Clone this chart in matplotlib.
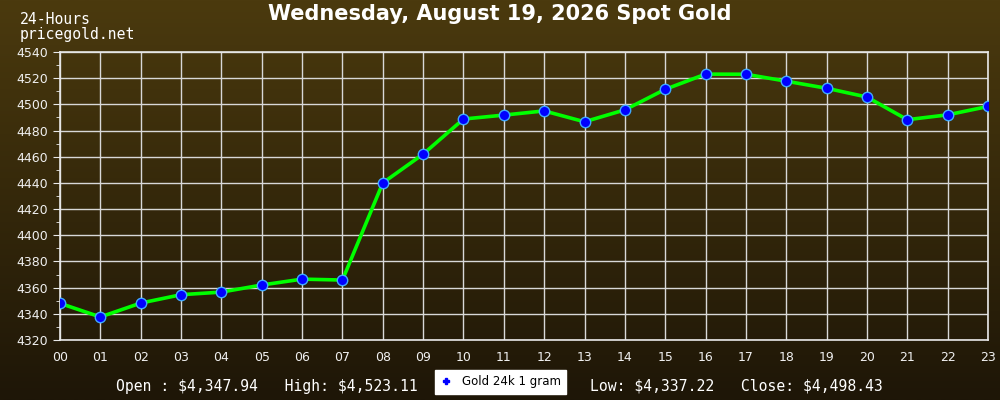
import numpy as np
import matplotlib
matplotlib.use("Agg")
import matplotlib.pyplot as plt
from matplotlib.lines import Line2D

plt.rcParams["text.parse_math"] = False

hours = ["00", "01", "02", "03", "04", "05", "06", "07", "08", "09", "10", "11",
         "12", "13", "14", "15", "16", "17", "18", "19", "20", "21", "22", "23"]
prices = [4348.0, 4337.6, 4348.2, 4354.6, 4356.6, 4362.0, 4366.5, 4365.8,
          4440.0, 4462.0, 4488.8, 4491.8, 4495.0, 4486.7, 4495.8, 4511.5,
          4523.1, 4523.0, 4517.7, 4512.3, 4505.6, 4488.3, 4492.0, 4498.4]
y_ticks = [4320, 4340, 4360, 4380, 4400, 4420, 4440, 4460, 4480, 4500, 4520, 4540]
title = "Wednesday, August 19, 2026 Spot Gold"
series_name = "Gold 24k 1 gram"
left_text = "Open : $4,347.94   High: $4,523.11"
right_text = "Low: $4,337.22   Close: $4,498.43"

fig = plt.figure(figsize=(10, 4), dpi=100)

# gradient background
bg = fig.add_axes([0, 0, 1, 1], zorder=-10)
top = np.array([75, 58, 14]) / 255.0
bot = np.array([30, 22, 7]) / 255.0
t = np.linspace(0, 1, 256)[:, None]
grad = top[None, :] * (1 - t) + bot[None, :] * t
bg.imshow(grad[:, None, :], aspect="auto", extent=[0, 1, 0, 1])
bg.set_axis_off()

ax = fig.add_axes([0.06, 0.15, 0.928, 0.72])
ax.set_facecolor("none")
x = np.arange(len(hours))
ax.plot(x, prices, color="#00ff00", lw=2.6, zorder=3, solid_joinstyle="round")
ax.plot(x, prices, ls="none", marker="o", ms=7.5, mfc="#0000ff", mec="#3fa9ff",
        mew=1, zorder=4)

ax.set_xlim(0, 23)
ax.set_ylim(4320, 4540)
ax.set_xticks(x)
ax.set_xticklabels(hours)
ax.set_yticks(y_ticks)
ax.set_yticks(np.arange(4330, 4540, 20), minor=True)
ax.grid(True, color="#d8d8d8", lw=1)
ax.set_axisbelow(True)
for s in ["left", "bottom", "top", "right"]:
    ax.spines[s].set_color("#e8e8e8")
    ax.spines[s].set_linewidth(1.2)
ax.tick_params(axis="y", which="major", length=5, color="#e8e8e8",
               labelcolor="#f0f0f0", labelsize=9)
ax.tick_params(axis="y", which="minor", length=3, color="#e8e8e8")
ax.tick_params(axis="x", length=0, labelcolor="#f0f0f0", labelsize=9, pad=8)

fig.text(0.5, 0.965, title, ha="center", va="center", color="white",
         fontsize=15, fontweight="bold", family="DejaVu Sans")
fig.text(0.02, 0.952, "24-Hours", ha="left", va="center", color="white",
         fontsize=10.6, family="DejaVu Sans Mono")
fig.text(0.02, 0.913, "pricegold.net", ha="left", va="center", color="white",
         fontsize=10.6, family="DejaVu Sans Mono")
fig.text(0.418, 0.035, left_text, ha="right", va="center", color="white",
         fontsize=10.6, family="DejaVu Sans Mono")
fig.text(0.59, 0.035, right_text, ha="left", va="center", color="white",
         fontsize=10.6, family="DejaVu Sans Mono")

handle = Line2D([], [], ls="none", marker="P", ms=4, mfc="#0000ff", mec="#0000ff")
leg = fig.legend([handle], [series_name], loc="center", bbox_to_anchor=(0.5005, 0.045),
                 frameon=True, fancybox=False, fontsize=8.5, handlelength=1.0,
                 borderpad=0.45, handletextpad=0.8, borderaxespad=0)
leg.get_frame().set_facecolor("white")
leg.get_frame().set_edgecolor("white")
leg.get_frame().set_alpha(1)

fig.savefig("out.png", dpi=100)
